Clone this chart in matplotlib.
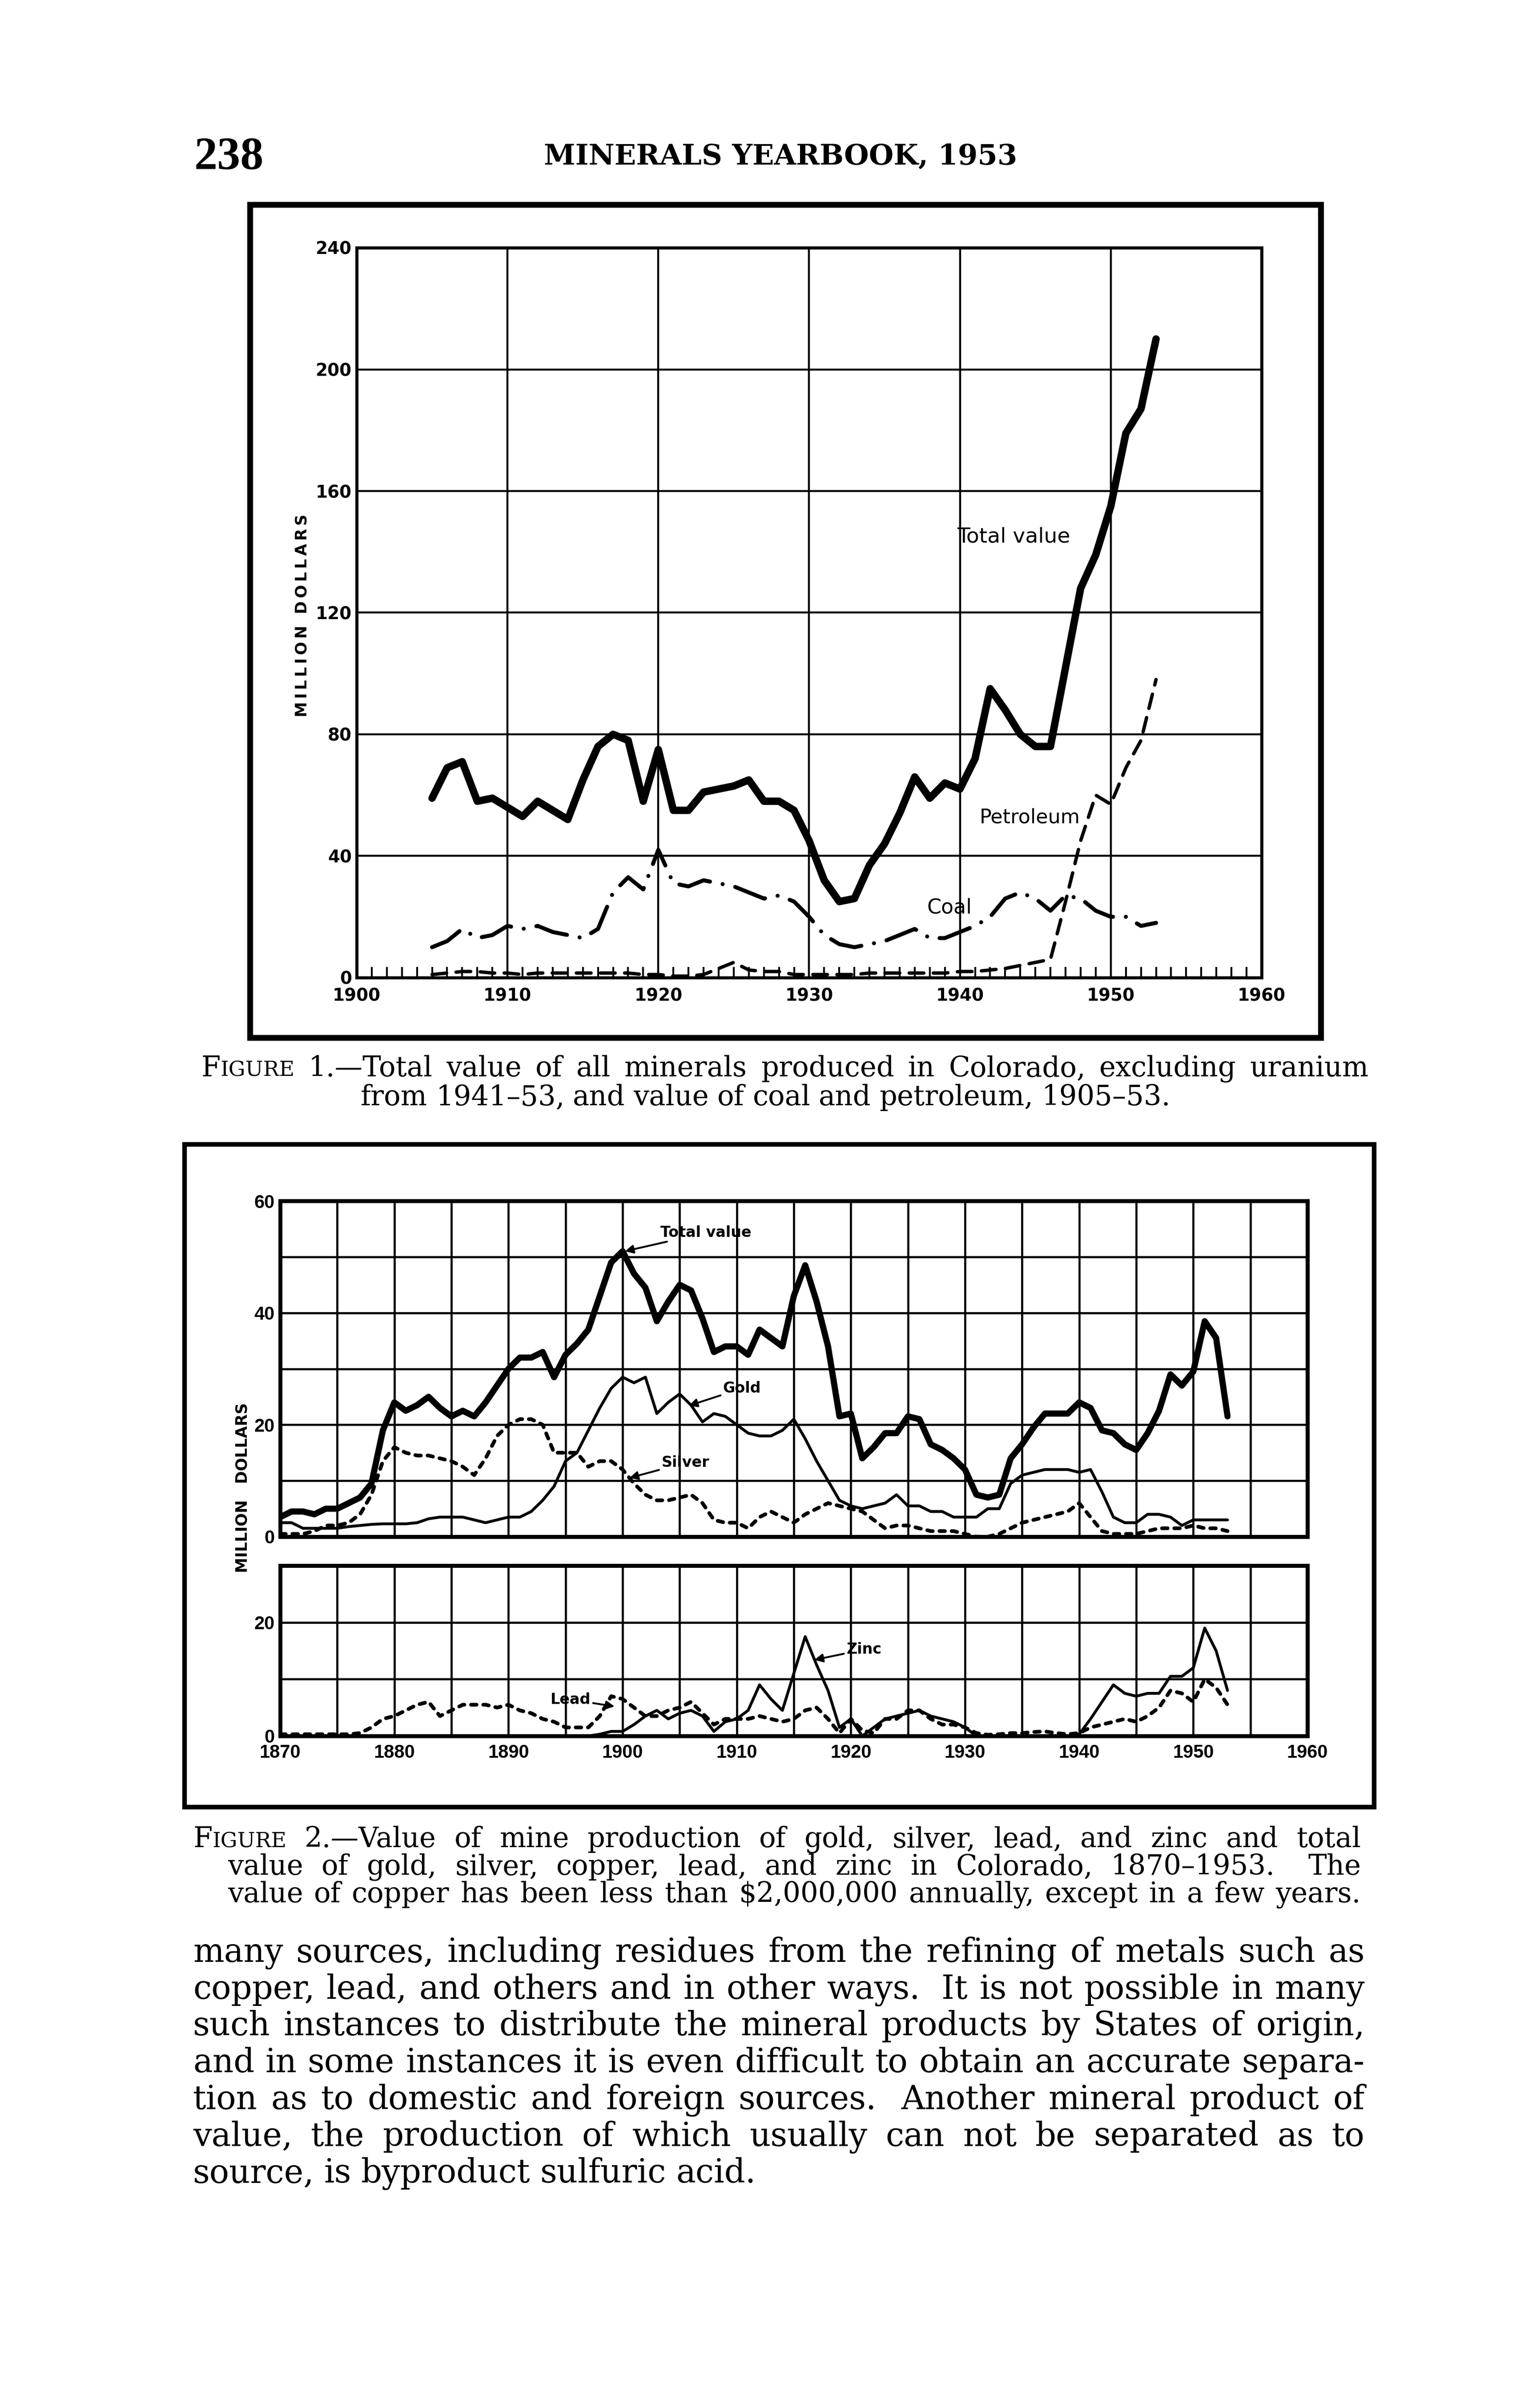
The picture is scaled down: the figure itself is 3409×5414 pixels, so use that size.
import re
import matplotlib
matplotlib.use("Agg")
import matplotlib.pyplot as plt
from matplotlib import font_manager
from matplotlib.patches import Rectangle
import numpy as np

# DATA (Colorado chapter)
# Figure 1 -- million dollars, 1905-53
fig1_years = np.arange(1905, 1954)
fig1_total = [59, 69, 71, 58, 59, 56, 53, 58, 55, 52,
              65, 76, 80, 78, 58, 75, 55, 55, 61, 62,
              63, 65, 58, 58, 55, 45, 32, 25, 26, 37,
              44, 54, 66, 59, 64, 62, 72, 95, 88, 80,
              76, 76, 102, 128, 139, 155, 179, 187, 210]
fig1_coal = [10, 12, 16, 13, 14, 17, 16, 17, 15, 14,
             13, 16, 28, 33, 29, 42, 31, 30, 32, 31,
             30, 28, 26, 27, 25, 20, 14, 11, 10, 11,
             12, 14, 16, 13, 13, 15, 17, 20, 26, 28,
             26, 22, 27, 26, 22, 20, 20, 17, 18]
fig1_petroleum = [1, 1.5, 2, 2, 1.5, 1.5, 1, 1.5, 1.5, 1.5,
                  1.5, 1.5, 1.5, 1.5, 1, 1, 0.5, 0.5, 1, 3,
                  5, 2.5, 2, 2, 1, 1, 1, 1, 1, 1.5,
                  1.5, 1.5, 1.5, 1.5, 1.5, 2, 2, 2.5, 3, 4,
                  5, 6, 25, 45, 60, 57, 69, 78, 98]
fig1_xticks = [1900, 1910, 1920, 1930, 1940, 1950, 1960]
fig1_xlabels = ["1900", "1910", "1920", "1930", "1940", "1950", "1960"]
fig1_yticks = [0, 40, 80, 120, 160, 200, 240]

# Figure 2 -- million dollars, 1870-1953
fig2_years = np.arange(1870, 1954)
fig2_total = [3.5, 4.5, 4.5, 4, 5, 5, 6, 7, 9.5, 19,
              24, 22.5, 23.5, 25, 23, 21.5, 22.5, 21.5, 24, 27,
              30, 32, 32, 33, 28.5, 32.5, 34.5, 37, 43, 49,
              51, 47, 44.5, 38.5, 42, 45, 44, 39, 33, 34,
              34, 32.5, 37, 35.5, 34, 43, 48.5, 42, 34, 21.5,
              22, 14, 16, 18.5, 18.5, 21.5, 21, 16.5, 15.5, 14,
              12, 7.5, 7, 7.5, 14, 16.5, 19.5, 22, 22, 22,
              24, 23, 19, 18.5, 16.5, 15.5, 18.5, 22.5, 29, 27,
              29.5, 38.5, 35.5, 21.5]
fig2_gold = [2.5, 2.5, 1.5, 1.5, 1.5, 1.5, 1.8, 2, 2.2, 2.3,
             2.3, 2.3, 2.5, 3.2, 3.5, 3.5, 3.5, 3, 2.5, 3,
             3.5, 3.5, 4.5, 6.5, 9, 13.5, 15, 19, 23, 26.5,
             28.5, 27.5, 28.5, 22, 24, 25.5, 23.5, 20.5, 22, 21.5,
             20, 18.5, 18, 18, 19, 21, 17.5, 13.5, 10, 6.5,
             5.5, 5, 5.5, 6, 7.5, 5.5, 5.5, 4.5, 4.5, 3.5,
             3.5, 3.5, 5, 5, 9.5, 11, 11.5, 12, 12, 12,
             11.5, 12, 8, 3.5, 2.5, 2.5, 4, 4, 3.5, 2,
             3, 3, 3, 3]
fig2_silver = [0.5, 0.5, 0.5, 1, 2, 2, 2.5, 4, 7.5, 13.5,
               16, 15, 14.5, 14.5, 14, 13.5, 12.5, 11, 14, 18,
               20, 21, 21, 20, 15, 15, 15, 12.5, 13.5, 13.5,
               12, 9.5, 7.5, 6.5, 6.5, 7, 7.5, 6, 3, 2.5,
               2.5, 1.5, 3.5, 4.5, 3.5, 2.5, 4, 5, 6, 5.5,
               5, 4.5, 3, 1.5, 2, 2, 1.5, 1, 1, 1,
               0.5, 0, 0, 0.5, 1.5, 2.5, 3, 3.5, 4, 4.5,
               6, 3.5, 1, 0.5, 0.5, 0.5, 1, 1.5, 1.5, 1.5,
               2, 1.5, 1.5, 1]
fig2_zinc = [0, 0, 0, 0, 0, 0, 0, 0, 0, 0,
             0, 0, 0, 0, 0, 0, 0, 0, 0, 0,
             0, 0, 0, 0, 0, 0, 0, 0, 0.3, 0.8,
             0.8, 2, 3.5, 4.5, 3, 4, 4.5, 3.5, 0.8, 2.5,
             3, 4.5, 9, 6.5, 4.5, 11, 17.5, 12.5, 8, 1.5,
             3, 0, 1.5, 3, 3.5, 4, 4.5, 3.5, 3, 2.5,
             1.5, 0, 0, 0, 0, 0, 0, 0, 0, 0,
             0.3, 3, 6, 9, 7.5, 7, 7.5, 7.5, 10.5, 10.5,
             12, 19, 15, 8]
fig2_lead = [0.3, 0.3, 0.3, 0.3, 0.3, 0.3, 0.3, 0.5, 1.5, 3,
             3.5, 4.5, 5.5, 6, 3.5, 4.5, 5.5, 5.5, 5.5, 5,
             5.5, 4.5, 4, 3, 2.5, 1.5, 1.5, 1.5, 3.5, 7,
             6.5, 5, 3.5, 3.5, 4.5, 5, 6, 4, 2, 3,
             3, 3, 3.5, 3, 2.5, 3, 4.5, 5, 3, 0.5,
             3, 1, 0.5, 3, 3, 4.5, 4.5, 3, 2, 2,
             1.5, 0.5, 0.2, 0.3, 0.5, 0.5, 0.7, 0.8, 0.5, 0.3,
             0.5, 1.5, 2, 2.5, 3, 2.5, 3.5, 5, 8, 7.5,
             6, 10, 8.5, 5.5]
fig2_xticks = list(range(1870, 1961, 5))
fig2_xlabels = [str(y) if y % 10 == 0 else "" for y in fig2_xticks]
fig2_top_yticks = [0, 10, 20, 30, 40, 50, 60]
fig2_top_ylabels = ["0", "", "20", "", "40", "", "60"]
fig2_bot_yticks = [0, 10, 20, 30]
fig2_bot_ylabels = ["0", "", "20", ""]

# page text
header_page = "238"
header_title = "MINERALS YEARBOOK, 1953"
caption1 = ["FIGURE 1.\u2014Total value of all minerals produced in Colorado, excluding uranium",
            "from 1941\u201353, and value of coal and petroleum, 1905\u201353."]
caption2 = ["FIGURE 2.\u2014Value of mine production of gold, silver, lead, and zinc and total",
            "value of gold, silver, copper, lead, and zinc in Colorado, 1870\u20131953.  The",
            "value of copper has been less than $2,000,000 annually, except in a few years."]
body = ["many sources, including residues from the refining of metals such as",
        "copper, lead, and others and in other ways.  It is not possible in many",
        "such instances to distribute the mineral products by States of origin,",
        "and in some instances it is even difficult to obtain an accurate separa-",
        "tion as to domestic and foreign sources.  Another mineral product of",
        "value, the production of which usually can not be separated as to",
        "source, is byproduct sulfuric acid."]

# fonts
names = {f.name for f in font_manager.fontManager.ttflist}
NARROW = "Liberation Sans Narrow" if "Liberation Sans Narrow" in names else "DejaVu Sans"
NARROW_SIZE = 31 if NARROW != "DejaVu Sans" else 24
SERIF = "DejaVu Serif"

plt.rcParams["lines.solid_joinstyle"] = "round"
plt.rcParams["lines.solid_capstyle"] = "round"
plt.rcParams["lines.dash_capstyle"] = "round"

W, H = 3409, 5414
fig = plt.figure(figsize=(W / 100, H / 100), dpi=100)
fig.patch.set_facecolor("white")


def fx(x):
    return x / W


def fy(y):
    return 1 - y / H


def frame(left, top, right, bottom, lw):
    fig.patches.append(Rectangle((fx(left), fy(bottom)), (right - left) / W, (bottom - top) / H,
                                 transform=fig.transFigure, fill=False, lw=lw, ec="black"))


# ---------------- FIGURE 1 ----------------
frame(562, 460, 2970, 2333, 9.5)
ax1 = fig.add_axes([fx(802), fy(2198), (2837 - 802) / W, (2198 - 557) / H])
ax1.set_xlim(1900, 1960)
ax1.set_ylim(0, 240)
ax1.set_axisbelow(True)
ax1.grid(True, which="major", color="black", lw=3.2)
ax1.set_xticks(fig1_xticks)
ax1.set_xticklabels(fig1_xlabels)
ax1.set_yticks(fig1_yticks)
ax1.set_xticks(range(1900, 1961), minor=True)
ax1.tick_params(which="major", length=0)
ax1.tick_params(axis="x", which="major", pad=16)
ax1.tick_params(axis="y", which="major", pad=8)
ax1.tick_params(axis="x", which="minor", direction="in", length=17, width=3)
for lab in ax1.get_xticklabels() + ax1.get_yticklabels():
    lab.set_fontsize(28)
    lab.set_fontweight("bold")
for s in ax1.spines.values():
    s.set_linewidth(5)

ax1.plot(fig1_years, fig1_total, color="black", lw=12)
ax1.plot(fig1_years, fig1_coal, color="black", lw=6.5, linestyle=(0, (8, 3.2, 0.01, 3.2)))
ax1.plot(fig1_years, fig1_petroleum, color="black", lw=5.5, linestyle=(0, (4.3, 2.8)))

ax1.text(1939.8, 145, "Total value", fontsize=34, va="center", ha="left")
ax1.text(1941.3, 52.6, "Petroleum", fontsize=32, va="center", ha="left")
ax1.text(1937.8, 23, "Coal", fontsize=33, va="center", ha="left")
ax1.text(1896.4, 119, "\u2009".join("MILLION DOLLARS"), fontsize=25, fontweight="bold",
         rotation=90, va="center", ha="center")

# ---------------- FIGURE 2 ----------------
frame(415, 2573, 3090, 4063, 7.5)
ax2 = fig.add_axes([fx(630), fy(3455), (2940 - 630) / W, (3455 - 2700) / H])
ax3 = fig.add_axes([fx(630), fy(3903), (2940 - 630) / W, (3903 - 3520) / H])
for ax, yt, yl, top in ((ax2, fig2_top_yticks, fig2_top_ylabels, 60),
                        (ax3, fig2_bot_yticks, fig2_bot_ylabels, 30)):
    ax.set_xlim(1870, 1960)
    ax.set_ylim(0, top)
    ax.set_axisbelow(True)
    ax.set_xticks(fig2_xticks)
    ax.set_yticks(yt)
    ax.set_yticklabels(yl)
    ax.grid(True, color="black", lw=3.4)
    ax.tick_params(length=0, pad=9)
    for s in ax.spines.values():
        s.set_linewidth(6.5)
ax2.set_xticklabels([])
ax3.set_xticklabels(fig2_xlabels)
ax3.tick_params(axis="x", pad=13)
for ax in (ax2, ax3):
    for lab in ax.get_xticklabels() + ax.get_yticklabels():
        lab.set_fontsize(30)
        lab.set_fontweight("bold")
        lab.set_fontfamily("Liberation Sans")

ax2.plot(fig2_years, fig2_total, color="black", lw=10)
ax2.plot(fig2_years, fig2_gold, color="black", lw=4.6)
ax2.plot(fig2_years, fig2_silver, color="black", lw=6, linestyle=(0, (1.5, 1.8)))
ax3.plot(fig2_years, fig2_zinc, color="black", lw=4.6)
ax3.plot(fig2_years, fig2_lead, color="black", lw=6, linestyle=(0, (1.5, 1.8)))

arrow = dict(arrowstyle="-|>", color="black", lw=3, mutation_scale=28, shrinkA=2, shrinkB=0)
lab_kw = dict(fontsize=NARROW_SIZE, family=NARROW, fontweight="bold", va="center")
ax2.annotate("Total value", xy=(1900.2, 51), xytext=(1903.3, 54.3), ha="left",
             arrowprops=arrow, **lab_kw)
ax2.annotate("Gold", xy=(1905.8, 23.4), xytext=(1908.8, 26.5), ha="left",
             arrowprops=arrow, **lab_kw)
ax2.annotate("Silver", xy=(1900.6, 10.5), xytext=(1903.4, 13.2), ha="left",
             arrowprops=arrow, **lab_kw)
ax3.annotate("Zinc", xy=(1916.8, 13.4), xytext=(1919.6, 15.2), ha="left",
             arrowprops=arrow, **lab_kw)
ax3.annotate("Lead", xy=(1899.3, 5.2), xytext=(1897.2, 6.4), ha="right",
             arrowprops=arrow, **lab_kw)
fig.text(fx(546), fy(3345), "MILLION   DOLLARS", fontsize=25, fontweight="bold",
         rotation=90, va="center", ha="center")

# ---------------- page text ----------------
fig.text(fx(437), fy(380), header_page, fontsize=75, fontweight="bold",
         family="Liberation Serif", va="baseline", ha="left")
fig.text(fx(1755), fy(370), header_title, fontsize=46, fontweight="bold",
         family=SERIF, va="baseline", ha="center")

renderer = fig.canvas.get_renderer()


def place_line(text, x0, x1, y, size, mode="justify"):
    tokens = re.split(r"( +)", text)
    words, seps = tokens[0::2], tokens[1::2]
    weights = [1.0 if len(s) == 1 else 1.8 for s in seps]
    pieces = []
    for w in words:
        runs = [("F", 1.0), ("IGURE", 0.76)] if w == "FIGURE" else [(w, 1.0)]
        arts = [fig.text(0, fy(y), s, fontsize=size * k, family=SERIF, va="baseline", ha="left")
                for s, k in runs]
        ws = [a.get_window_extent(renderer=renderer).width for a in arts]
        pieces.append((arts, ws))
    natural = sum(sum(ws) for _, ws in pieces)
    if mode == "justify" and weights:
        unit = (x1 - x0 - natural) / sum(weights)
        x = x0
    else:
        unit = size * 0.30 * 100 / 72
        span = natural + unit * sum(weights)
        x = x0 if mode == "left" else (x0 + x1 - span) / 2
    for i, (arts, ws) in enumerate(pieces):
        for a, w in zip(arts, ws):
            a.set_x(fx(x))
            x += w
        if i < len(weights):
            x += unit * weights[i]


place_line(caption1[0], 452, 3078, 2420, 45)
place_line(caption1[1], 796, 2647, 2485, 45, mode="center")
place_line(caption2[0], 434, 3060, 4153, 45)
place_line(caption2[1], 512, 3060, 4215, 45)
place_line(caption2[2], 512, 3060, 4277, 45)
for i, line in enumerate(body):
    mode = "left" if i == len(body) - 1 else "justify"
    place_line(line, 434, 3069, 4411 + i * 82.7, 53, mode=mode)

fig.savefig("out.png", dpi=100, facecolor="white")
